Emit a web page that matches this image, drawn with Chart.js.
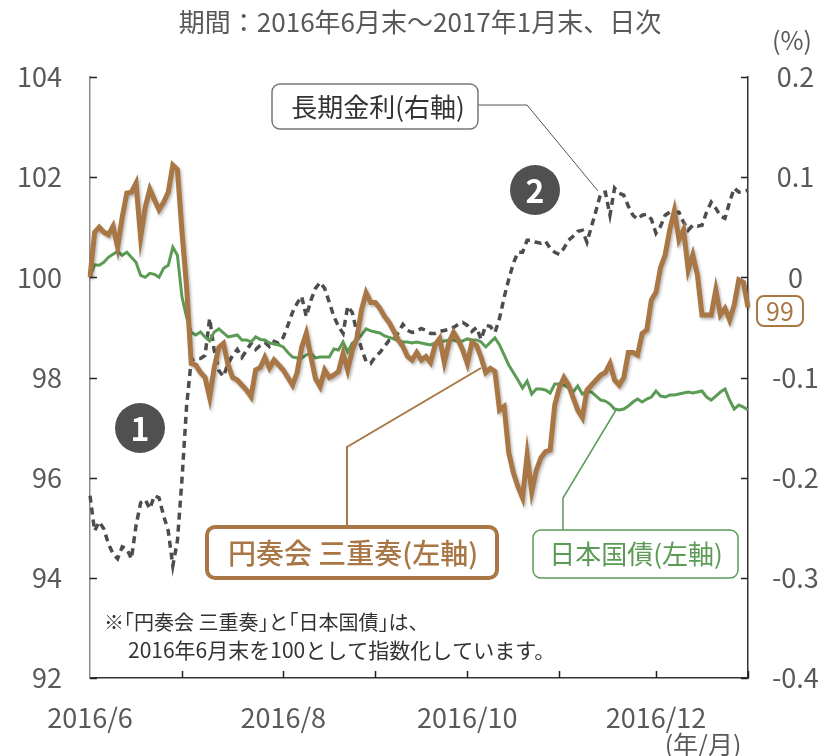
<!DOCTYPE html>
<html lang="ja">
<head>
<meta charset="utf-8">
<script src="https://cdn.jsdelivr.net/npm/chart.js@4.4.1/dist/chart.umd.min.js"></script>
<style>
  html, body { margin: 0; padding: 0; background: #fff; }
  #wrap { width: 825px; height: 756px; position: relative; }
</style>
</head>
<body>
<div id="wrap"><canvas id="chart"></canvas></div>
<script>
// --- Data (business days, 2016/6/30 .. 2017/1/31) ---
const fundIndex = [
  100.0, 100.9, 101.0, 100.9, 100.85, 101.02, 100.6, 101.2, 101.68, 101.7,
  101.88, 100.8, 101.4, 101.76, 101.55, 101.35, 101.5, 101.7, 102.24, 102.15,
  100.9, 99.8, 98.28, 98.25, 98.1, 98.0, 97.6, 98.2, 98.6, 98.68,
  98.25, 98.0, 97.95, 97.85, 97.75, 97.62, 98.15, 98.2, 98.4, 98.19,
  98.35, 98.25, 98.15, 98.0, 97.85, 98.1, 98.6, 98.88, 98.42, 97.98,
  97.82, 98.15, 98.0, 98.05, 98.12, 98.48, 98.15, 98.55, 98.78, 99.35,
  99.69, 99.5, 99.5, 99.38, 99.22, 99.1, 98.93, 98.75, 98.62, 98.42,
  98.35, 98.5, 98.35, 98.42, 98.3, 98.65, 98.78, 98.3, 98.7, 98.9,
  98.75, 98.55, 98.28, 98.7, 98.64, 98.4, 98.1, 98.18, 98.12, 97.35,
  97.42, 96.5, 96.1, 95.82, 95.6, 96.45, 95.72, 96.15, 96.4, 96.52,
  96.55, 97.45, 97.8, 98.0, 97.85, 97.6, 97.35, 97.2, 97.75, 97.85,
  97.95, 98.05, 98.1, 98.28, 97.95, 97.85, 98.0, 98.5, 98.5, 98.45,
  98.88, 98.95, 99.55, 99.7, 100.2, 100.45, 100.95, 101.33, 100.75, 100.95,
  100.15, 100.45, 100.05, 99.25, 99.25, 99.25, 99.75, 99.25, 99.38, 99.15,
  99.45, 99.95, 99.9, 99.4
];
const jgbIndex = [
  100.0, 100.25, 100.24, 100.3, 100.4, 100.46, 100.52, 100.44, 100.5, 100.4,
  100.3, 100.04, 100.0, 100.08, 100.06, 100.0, 100.18, 100.24, 100.6, 100.44,
  99.6, 99.2, 98.9, 98.85, 98.91, 98.81, 98.73, 98.91, 98.97, 98.89,
  98.81, 98.83, 98.85, 98.75, 98.75, 98.71, 98.81, 98.76, 98.75, 98.69,
  98.67, 98.65, 98.61, 98.5, 98.41, 98.39, 98.39, 98.45, 98.49, 98.39,
  98.41, 98.41, 98.41, 98.57, 98.55, 98.71, 98.51, 98.69, 98.75, 98.85,
  98.97, 98.93, 98.91, 98.89, 98.83, 98.8, 98.77, 98.73, 98.71, 98.71,
  98.69, 98.71, 98.69, 98.67, 98.65, 98.69, 98.71, 98.73, 98.75, 98.75,
  98.71, 98.73, 98.77, 98.75, 98.75, 98.71, 98.61, 98.7, 98.79, 98.65,
  98.45, 98.25, 98.1, 97.95, 97.79, 97.93, 97.67, 97.77, 97.77, 97.75,
  97.69, 97.87, 97.87, 97.85, 97.79, 97.71, 97.83, 97.67, 97.73, 97.71,
  97.63, 97.55, 97.53, 97.47, 97.37, 97.35, 97.37, 97.43, 97.51, 97.57,
  97.51, 97.57, 97.61, 97.73, 97.63, 97.61, 97.65, 97.65, 97.67, 97.69,
  97.71, 97.69, 97.71, 97.73, 97.61, 97.55, 97.63, 97.71, 97.77, 97.55,
  97.37, 97.45, 97.41, 97.35
];
const yield10y = [
  -0.218, -0.253, -0.244, -0.251, -0.266, -0.276, -0.281, -0.269, -0.271, -0.281,
  -0.248, -0.225, -0.222, -0.231, -0.218, -0.22, -0.238, -0.253, -0.288, -0.263,
  -0.201, -0.128, -0.083, -0.081, -0.081, -0.078, -0.041, -0.073, -0.093, -0.099,
  -0.086, -0.078, -0.072, -0.08, -0.073, -0.066, -0.072, -0.068, -0.065, -0.069,
  -0.064, -0.066, -0.06, -0.048, -0.035, -0.026, -0.019, -0.039, -0.023, -0.011,
  -0.005, -0.011, -0.025, -0.039, -0.049, -0.056, -0.029, -0.035, -0.055, -0.071,
  -0.084, -0.086, -0.079, -0.075, -0.069, -0.063, -0.062, -0.055, -0.047, -0.053,
  -0.055, -0.054, -0.051, -0.053, -0.056, -0.056, -0.054, -0.053, -0.052, -0.05,
  -0.047, -0.045, -0.048, -0.054, -0.05, -0.062, -0.048, -0.049, -0.055, -0.041,
  -0.02, -0.002, 0.014, 0.025, 0.025, 0.037, 0.037, 0.035, 0.034, 0.036,
  0.029, 0.025, 0.023, 0.029, 0.037, 0.041, 0.046, 0.047, 0.035, 0.051,
  0.067, 0.084, 0.085, 0.062, 0.089, 0.084, 0.082, 0.071, 0.062, 0.058,
  0.062, 0.063, 0.058, 0.044, 0.051, 0.062, 0.065, 0.065, 0.065, 0.055,
  0.047, 0.052, 0.051, 0.052, 0.065, 0.075, 0.069, 0.061, 0.059, 0.075,
  0.089, 0.085, 0.086, 0.087
];
// x tick labels by day index, and month-end day indexes for tick marks
const xTickLabels = { 0: '2016/6', 42: '2016/8', 82: '2016/10', 123: '2016/12' };
const monthEnds = [20, 42, 62, 82, 102, 123, 143];
const leftTicks = [92, 94, 96, 98, 100, 102, 104];
const rightTicks = [-0.4, -0.3, -0.2, -0.1, 0, 0.1, 0.2];

const ORANGE = '#A97745';
const GREEN = '#5B9B55';
const DARK = '#4D4D4F';
const TEXT = '#595959';
const FONT = "'Noto Sans CJK JP', 'Noto Sans', sans-serif";

Chart.defaults.font.family = FONT;
Chart.defaults.color = TEXT;

// --- Helpers ---
function rr(ctx, x, y, w, h, r) {
    ctx.beginPath();
    ctx.roundRect(x, y, w, h, r);
}

// shadow under the fund line
const shadowPlugin = {
    id: 'shadow',
    beforeDatasetDraw(chart, args) {
        if (args.index !== 0) return;
        const c = chart.ctx;
        c.save();
        c.shadowColor = 'rgba(0,0,0,0.28)';
        c.shadowBlur = 3;
        c.shadowOffsetX = 1.5;
        c.shadowOffsetY = 2;
    },
    afterDatasetDraw(chart, args) {
        if (args.index === 0) chart.ctx.restore();
    }
};

// --- Ticks, titles and callouts ---
const decoPlugin = {
    id: 'deco',
    afterDraw(chart) {
        const { ctx, chartArea: ca, scales } = chart;
        ctx.save();

        // inward tick marks
        ctx.strokeStyle = '#222';
        ctx.lineWidth = 1.5;
        ctx.beginPath();
        leftTicks.forEach(v => {
            const y = Math.round(scales.y.getPixelForValue(v)) + 0.5;
            ctx.moveTo(ca.left, y); ctx.lineTo(ca.left + 7, y);
        });
        rightTicks.forEach(v => {
            const y = Math.round(scales.y2.getPixelForValue(v)) + 0.5;
            ctx.moveTo(ca.right, y); ctx.lineTo(ca.right - 7, y);
        });
        monthEnds.forEach(i => {
            const x = Math.round(scales.x.getPixelForValue(i)) + 0.5;
            ctx.moveTo(x, ca.bottom); ctx.lineTo(x, ca.bottom - 7);
        });
        ctx.stroke();

        // title and unit labels
        ctx.fillStyle = TEXT;
        ctx.textAlign = 'center';
        ctx.textBaseline = 'middle';
        ctx.font = `26px ${FONT}`;
        ctx.fillText('期間：2016年6月末～2017年1月末、日次', 420, 22);
        ctx.font = `25px ${FONT}`;
        ctx.fillText('(%)', 792, 40);
        ctx.fillText('(年/月)', 703, 744);

        // long-term yield callout
        ctx.strokeStyle = '#555';
        ctx.lineWidth = 1;
        ctx.beginPath();
        ctx.moveTo(478, 105); ctx.lineTo(527, 105); ctx.lineTo(598, 191);
        ctx.stroke();
        rr(ctx, 272, 84, 206, 45, 8);
        ctx.fillStyle = '#fff'; ctx.fill();
        ctx.strokeStyle = '#777'; ctx.lineWidth = 1.5; ctx.stroke();
        ctx.fillStyle = '#333';
        ctx.font = `26px ${FONT}`;
        ctx.fillText('長期金利(右軸)', 378, 107);

        // fund callout
        ctx.strokeStyle = ORANGE;
        ctx.lineWidth = 2;
        ctx.beginPath();
        ctx.moveTo(347, 527); ctx.lineTo(347, 447); ctx.lineTo(481, 368);
        ctx.stroke();
        rr(ctx, 207, 527, 290, 51, 8);
        ctx.fillStyle = '#fff'; ctx.fill();
        ctx.lineWidth = 4; ctx.stroke();
        ctx.fillStyle = ORANGE;
        ctx.font = `500 28px ${FONT}`;
        ctx.fillText('円奏会 三重奏(左軸)', 353, 553);

        // JGB callout
        ctx.strokeStyle = GREEN;
        ctx.lineWidth = 1.5;
        ctx.beginPath();
        ctx.moveTo(563, 530); ctx.lineTo(563, 498); ctx.lineTo(616, 410);
        ctx.stroke();
        rr(ctx, 533, 530, 205, 48, 8);
        ctx.fillStyle = '#fff'; ctx.fill();
        ctx.stroke();
        ctx.fillStyle = GREEN;
        ctx.font = `26px ${FONT}`;
        ctx.fillText('日本国債(左軸)', 636, 554);

        // numbered circles
        [[140, 428, '1'], [535, 190, '2']].forEach(([cx, cy, t]) => {
            ctx.beginPath();
            ctx.arc(cx, cy, 25, 0, Math.PI * 2);
            ctx.fillStyle = '#505050';
            ctx.fill();
            ctx.fillStyle = '#fff';
            ctx.font = `bold 32px ${FONT}`;
            ctx.fillText(t, cx, cy + 1);
        });

        // end value label
        rr(ctx, 757, 296, 46, 30, 7);
        ctx.strokeStyle = ORANGE; ctx.lineWidth = 2; ctx.stroke();
        ctx.fillStyle = ORANGE;
        ctx.font = `25px ${FONT}`;
        ctx.fillText('99', 780, 311);

        // note
        ctx.fillStyle = '#333';
        ctx.textAlign = 'left';
        ctx.font = `20px ${FONT}`;
        ctx.fillText('※｢円奏会 三重奏｣と｢日本国債｣は、', 104, 622);
        ctx.font = `21px ${FONT}`;
        ctx.fillText('2016年6月末を100として指数化しています。', 128, 650);

        ctx.restore();
    }
};

// --- Chart Setup ---
const ctx = document.getElementById('chart').getContext('2d');
const chart = new Chart(ctx, {
    type: 'line',
    data: {
        labels: fundIndex.map((_, i) => i),
        datasets: [
            { label: '円奏会 三重奏', data: fundIndex, yAxisID: 'y', borderColor: ORANGE,
              borderWidth: 5, pointRadius: 0, tension: 0, order: 1 },
            { label: '日本国債', data: jgbIndex, yAxisID: 'y', borderColor: GREEN,
              borderWidth: 3, pointRadius: 0, tension: 0, order: 2 },
            { label: '長期金利', data: yield10y, yAxisID: 'y2', borderColor: DARK,
              borderWidth: 3.5, borderDash: [7, 5], pointRadius: 0, tension: 0, order: 3 }
        ]
    },
    options: {
        responsive: true,
        maintainAspectRatio: false,
        animation: false,
        layout: { padding: { top: 77, left: 0, right: 0, bottom: 0 } },
        plugins: { legend: { display: false }, tooltip: { enabled: false } },
        scales: {
            x: {
                type: 'category',
                grid: { display: false },
                border: { display: true, color: '#333', width: 1.5 },
                ticks: {
                    autoSkip: false, maxRotation: 0, minRotation: 0,
                    padding: 16, color: TEXT, font: { size: 27 },
                    callback: (v, i) => xTickLabels[i] || ''
                },
                afterFit: s => { s.height = 78; }
            },
            y: {
                position: 'left', min: 92, max: 104,
                grid: { display: false },
                border: { display: true, color: '#8a8a8a', width: 1.5 },
                ticks: { stepSize: 2, padding: 20, color: TEXT, font: { size: 27 } },
                afterFit: s => { s.width = 90; }
            },
            y2: {
                position: 'right', min: -0.4, max: 0.2,
                grid: { display: false },
                border: { display: true, color: '#333', width: 1.5 },
                ticks: {
                    stepSize: 0.1, padding: 16, crossAlign: 'center', color: TEXT,
                    font: { size: 27 },
                    callback: v => (Math.round(v * 10) / 10).toString()
                },
                afterFit: s => { s.width = 77; }
            }
        }
    },
    plugins: [shadowPlugin, decoPlugin]
});
</script>
</body>
</html>
